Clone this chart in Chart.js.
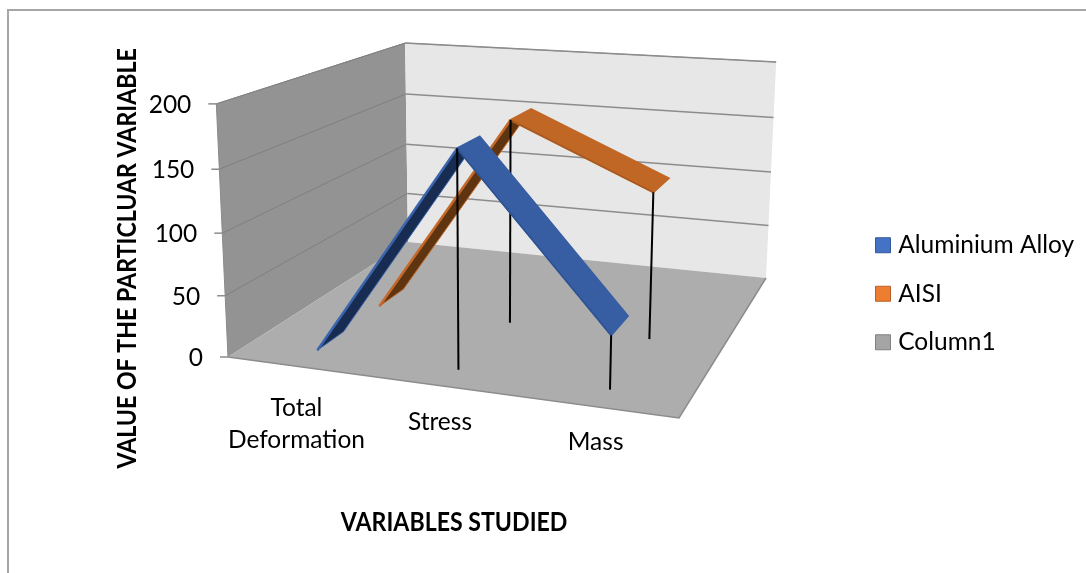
<!DOCTYPE html>
<html>
<head>
    <title>Variables studied</title>
    <script src="https://cdn.jsdelivr.net/npm/chart.js"></script>
    <style>
        html, body { margin: 0; padding: 0; background: #fff; overflow: hidden; }
        #wrap { width: 1086px; height: 573px; }
    </style>
</head>
<body>
    <div id="wrap"><canvas id="chart"></canvas></div>
    <script>
        // data
        const categories = [['Total', 'Deformation'], ['Stress'], ['Mass']];
        const aluminium = [1, 172, 42];
        const aisi = [1, 172, 122];
        const column1 = [null, null, null];
        const yTicks = [0, 50, 100, 150, 200];

        const labelFont = '24.5px Lato';
        const titleFont = { family: 'Lato', size: 26, weight: 'bold' };
        const titleSqueeze = 0.89;

        // picture corners of the 3d box
        const floorFL = [228, 357], floorFR = [679, 418], floorBR = [766, 278], floorBL = [408, 242];
        const topFL = [216, 104], topBL = [405.5, 43], topBR = [776, 62];

        // floor homography, (u, w) -> picture
        function floorMatrix() {
            const [x0, y0] = floorFL, [x1, y1] = floorFR, [x2, y2] = floorBR, [x3, y3] = floorBL;
            const dx1 = x1 - x2, dx2 = x3 - x2, dx3 = x0 - x1 + x2 - x3;
            const dy1 = y1 - y2, dy2 = y3 - y2, dy3 = y0 - y1 + y2 - y3;
            const den = dx1 * dy2 - dx2 * dy1;
            const g = (dx3 * dy2 - dx2 * dy3) / den;
            const h = (dx1 * dy3 - dx3 * dy1) / den;
            return { a: x1 - x0 + g * x1, b: x3 - x0 + h * x3, c: x0, d: y1 - y0 + g * y1, e: y3 - y0 + h * y3, f: y0, g, h };
        }
        const m = floorMatrix();

        // least squares for the vertical axis from the three top corners
        const vert = (function () {
            const uw = [[0, 0], [0, 1], [1, 1]];
            const tops = [topFL, topBL, topBR];
            const r = [], s = [];
            tops.forEach((t, i) => {
                const [u, w] = uw[i];
                const X = m.a * u + m.b * w + m.c, Y = m.d * u + m.e * w + m.f, W = m.g * u + m.h * w + 1;
                r.push(t[0] * W - X);
                s.push(t[1] * W - Y);
            });
            const mean = a => a.reduce((p, q) => p + q, 0) / a.length;
            const xs = tops.map(t => t[0]), ys = tops.map(t => t[1]);
            const xm = mean(xs), ym = mean(ys), rm = mean(r), sm = mean(s);
            let num = 0, den = 0;
            tops.forEach((t, i) => {
                num += (xs[i] - xm) * (r[i] - rm) + (ys[i] - ym) * (s[i] - sm);
                den += (xs[i] - xm) ** 2 + (ys[i] - ym) ** 2;
            });
            const C = -num / den;
            return { A: rm + xm * C, B: sm + ym * C, C };
        })();

        function project(u, w, v) {
            const W = m.g * u + m.h * w + 1 + v * vert.C;
            return [(m.a * u + m.b * w + m.c + v * vert.A) / W, (m.d * u + m.e * w + m.f + v * vert.B) / W];
        }

        function poly(ctx, pts, fill, stroke, lw) {
            ctx.beginPath();
            pts.forEach((p, i) => i ? ctx.lineTo(p[0], p[1]) : ctx.moveTo(p[0], p[1]));
            if (fill) { ctx.closePath(); ctx.fillStyle = fill; ctx.fill(); }
            if (stroke) { ctx.strokeStyle = stroke; ctx.lineWidth = lw || 1; ctx.stroke(); }
        }

        // ribbon depth slots per series
        const slots = [[0.1, 0.233], [0.433, 0.58]];
        const faces = [
            { top: '#375ea3', under: '#182c52', edge: '#3a64ac', low: '#2f5391' },
            { top: '#c16726', under: '#5f3410', edge: '#c4692a', low: '#a95a20' }
        ];

        // narrower axis titles, the font has no condensed cut
        function squeezeTitle(scale, horizontal) {
            const draw = scale.drawTitle;
            scale.drawTitle = function () {
                const c = this.ctx;
                const mid = horizontal ? (this.left + this.right) / 2 : (this.top + this.bottom) / 2;
                c.save();
                if (horizontal) {
                    c.translate(mid, 0); c.scale(titleSqueeze, 1); c.translate(-mid, 0);
                } else {
                    c.translate(0, mid); c.scale(1, titleSqueeze); c.translate(0, -mid);
                }
                draw.call(this);
                c.restore();
            };
        }

        const box3d = {
            id: 'box3d',
            afterLayout(chart) {
                const l = chart.legend;
                l.left = 856; l.right = 1086;
                l.top = 209; l.bottom = 400;
                squeezeTitle(chart.scales.x, true);
                squeezeTitle(chart.scales.y, false);
            },
            beforeDatasetsDraw(chart) {
                const { ctx, chartArea: area, scales: { x, y } } = chart;
                const norm = py => (area.bottom - py) / (area.bottom - area.top);
                const normX = px => (px - area.left) / (area.right - area.left);

                ctx.save();
                // frame of the chart object
                poly(ctx, [[1086, 10], [8, 10], [8, 573]], null, '#a6a6a6', 2);

                // walls
                poly(ctx, [project(0, 0, 0), project(0, 0, 1), project(0, 1, 1), project(0, 1, 0)], '#939393');
                poly(ctx, [project(0, 1, 0), project(0, 1, 1), project(1, 1, 1), project(1, 1, 0)], '#e7e7e7');
                poly(ctx, [project(0, 0, 0), project(0, 0, 1), project(0, 1, 1)], null, '#8a8a8a', 1);
                poly(ctx, [project(0, 1, 1), project(1, 1, 1)], null, '#a0a0a0', 1);

                // floor
                poly(ctx, [project(0, 0, 0), project(1, 0, 0), project(1, 1, 0), project(0, 1, 0)], '#adadad');
                poly(ctx, [project(0, 0, 0), project(1, 0, 0), project(1, 1, 0)], null, '#8c8c8c', 1.5);

                // grid, tick marks and tick labels
                ctx.font = labelFont;
                ctx.textAlign = 'right';
                ctx.textBaseline = 'middle';
                yTicks.forEach(t => {
                    const v = norm(y.getPixelForValue(t));
                    const a = project(0, 0, v), b = project(0, 1, v), c = project(1, 1, v);
                    if (t > 0) {
                        poly(ctx, [a, b], null, '#7f7f7f', 1);
                        poly(ctx, [b, c], null, '#8c8c8c', 1.5);
                    }
                    poly(ctx, [[a[0] - 8, a[1]], a], null, '#8c8c8c', 1.5);
                    ctx.fillStyle = '#000';
                    ctx.fillText(String(t), a[0] - 25, a[1] + 1);
                });

                // category labels under the front edge
                ctx.textAlign = 'center';
                const labelDrop = [74, 36, 35];
                categories.forEach((cat, i) => {
                    const p = project(normX(x.getPixelForValue(i)), 0, 0);
                    cat.forEach((line, k) => {
                        const back = cat.length - 1 - k;
                        ctx.fillText(line, p[0] - (cat.length > 1 ? 0 : 1), p[1] + labelDrop[i] - back * 32);
                    });
                });

                // ribbons, back to front
                [1, 0].forEach(s => {
                    const meta = chart.getDatasetMeta(s);
                    const [w0, w1] = slots[s];
                    const f = faces[s];
                    const uv = meta.data.map(pt => [normX(pt.x), norm(pt.y)]);
                    for (let i = 0; i < uv.length - 1; i++) {
                        const [u0, v0] = uv[i], [u1, v1] = uv[i + 1];
                        const q = [project(u0, w0, v0), project(u1, w0, v1), project(u1, w1, v1), project(u0, w1, v0)];
                        if (v1 > v0) {
                            poly(ctx, q, f.under);
                            poly(ctx, [q[0], q[1]], null, f.edge, 2.5);
                            poly(ctx, [q[0], q[3]], null, f.edge, 1);
                            poly(ctx, [q[2], q[3]], null, f.edge, 1);
                        } else {
                            poly(ctx, q, f.top, f.top, 2);
                            poly(ctx, [q[0], q[1]], null, f.low, 1.5);
                        }
                    }
                    uv.forEach(([u, v]) => {
                        if (v > 0.02) poly(ctx, [project(u, w0, v), project(u, w0, 0)], null, '#000', 2);
                    });
                });
                ctx.restore();
            }
        };

        new Chart(document.getElementById('chart').getContext('2d'), {
            type: 'line',
            data: {
                labels: categories.map(c => c.join(' ')),
                datasets: [
                    { label: 'Aluminium Alloy', data: aluminium, backgroundColor: '#4472c4', borderColor: '#35589a', borderWidth: 1, showLine: false, pointRadius: 0 },
                    { label: 'AISI', data: aisi, backgroundColor: '#ed7d31', borderColor: '#b9612a', borderWidth: 1, showLine: false, pointRadius: 0 },
                    { label: 'Column1', data: column1, backgroundColor: '#a5a5a5', borderColor: '#818181', borderWidth: 1, showLine: false, pointRadius: 0 }
                ]
            },
            plugins: [box3d],
            options: {
                responsive: true,
                maintainAspectRatio: false,
                animation: false,
                layout: { padding: { top: 110, left: 112, right: 114, bottom: 35 } },
                plugins: {
                    tooltip: { enabled: false },
                    legend: {
                        position: 'right',
                        align: 'start',
                        labels: {
                            color: '#000',
                            font: { family: 'Lato', size: 24.5 },
                            usePointStyle: true,
                            pointStyle: 'rect',
                            boxWidth: 6,
                            boxHeight: 15,
                            padding: 24
                        }
                    }
                },
                scales: {
                    x: {
                        offset: true,
                        grid: { display: false },
                        border: { display: false },
                        ticks: { display: false },
                        title: { display: true, text: 'VARIABLES STUDIED', color: '#000', font: titleFont, padding: { top: 92, bottom: 0 } }
                    },
                    y: {
                        min: 0,
                        max: 200,
                        grid: { display: false },
                        border: { display: false },
                        ticks: { display: false, stepSize: 50 },
                        title: { display: true, text: 'VALUE OF THE PARTICLUAR VARIABLE', color: '#000', font: titleFont, padding: 0 }
                    }
                }
            }
        });
    </script>
</body>
</html>
